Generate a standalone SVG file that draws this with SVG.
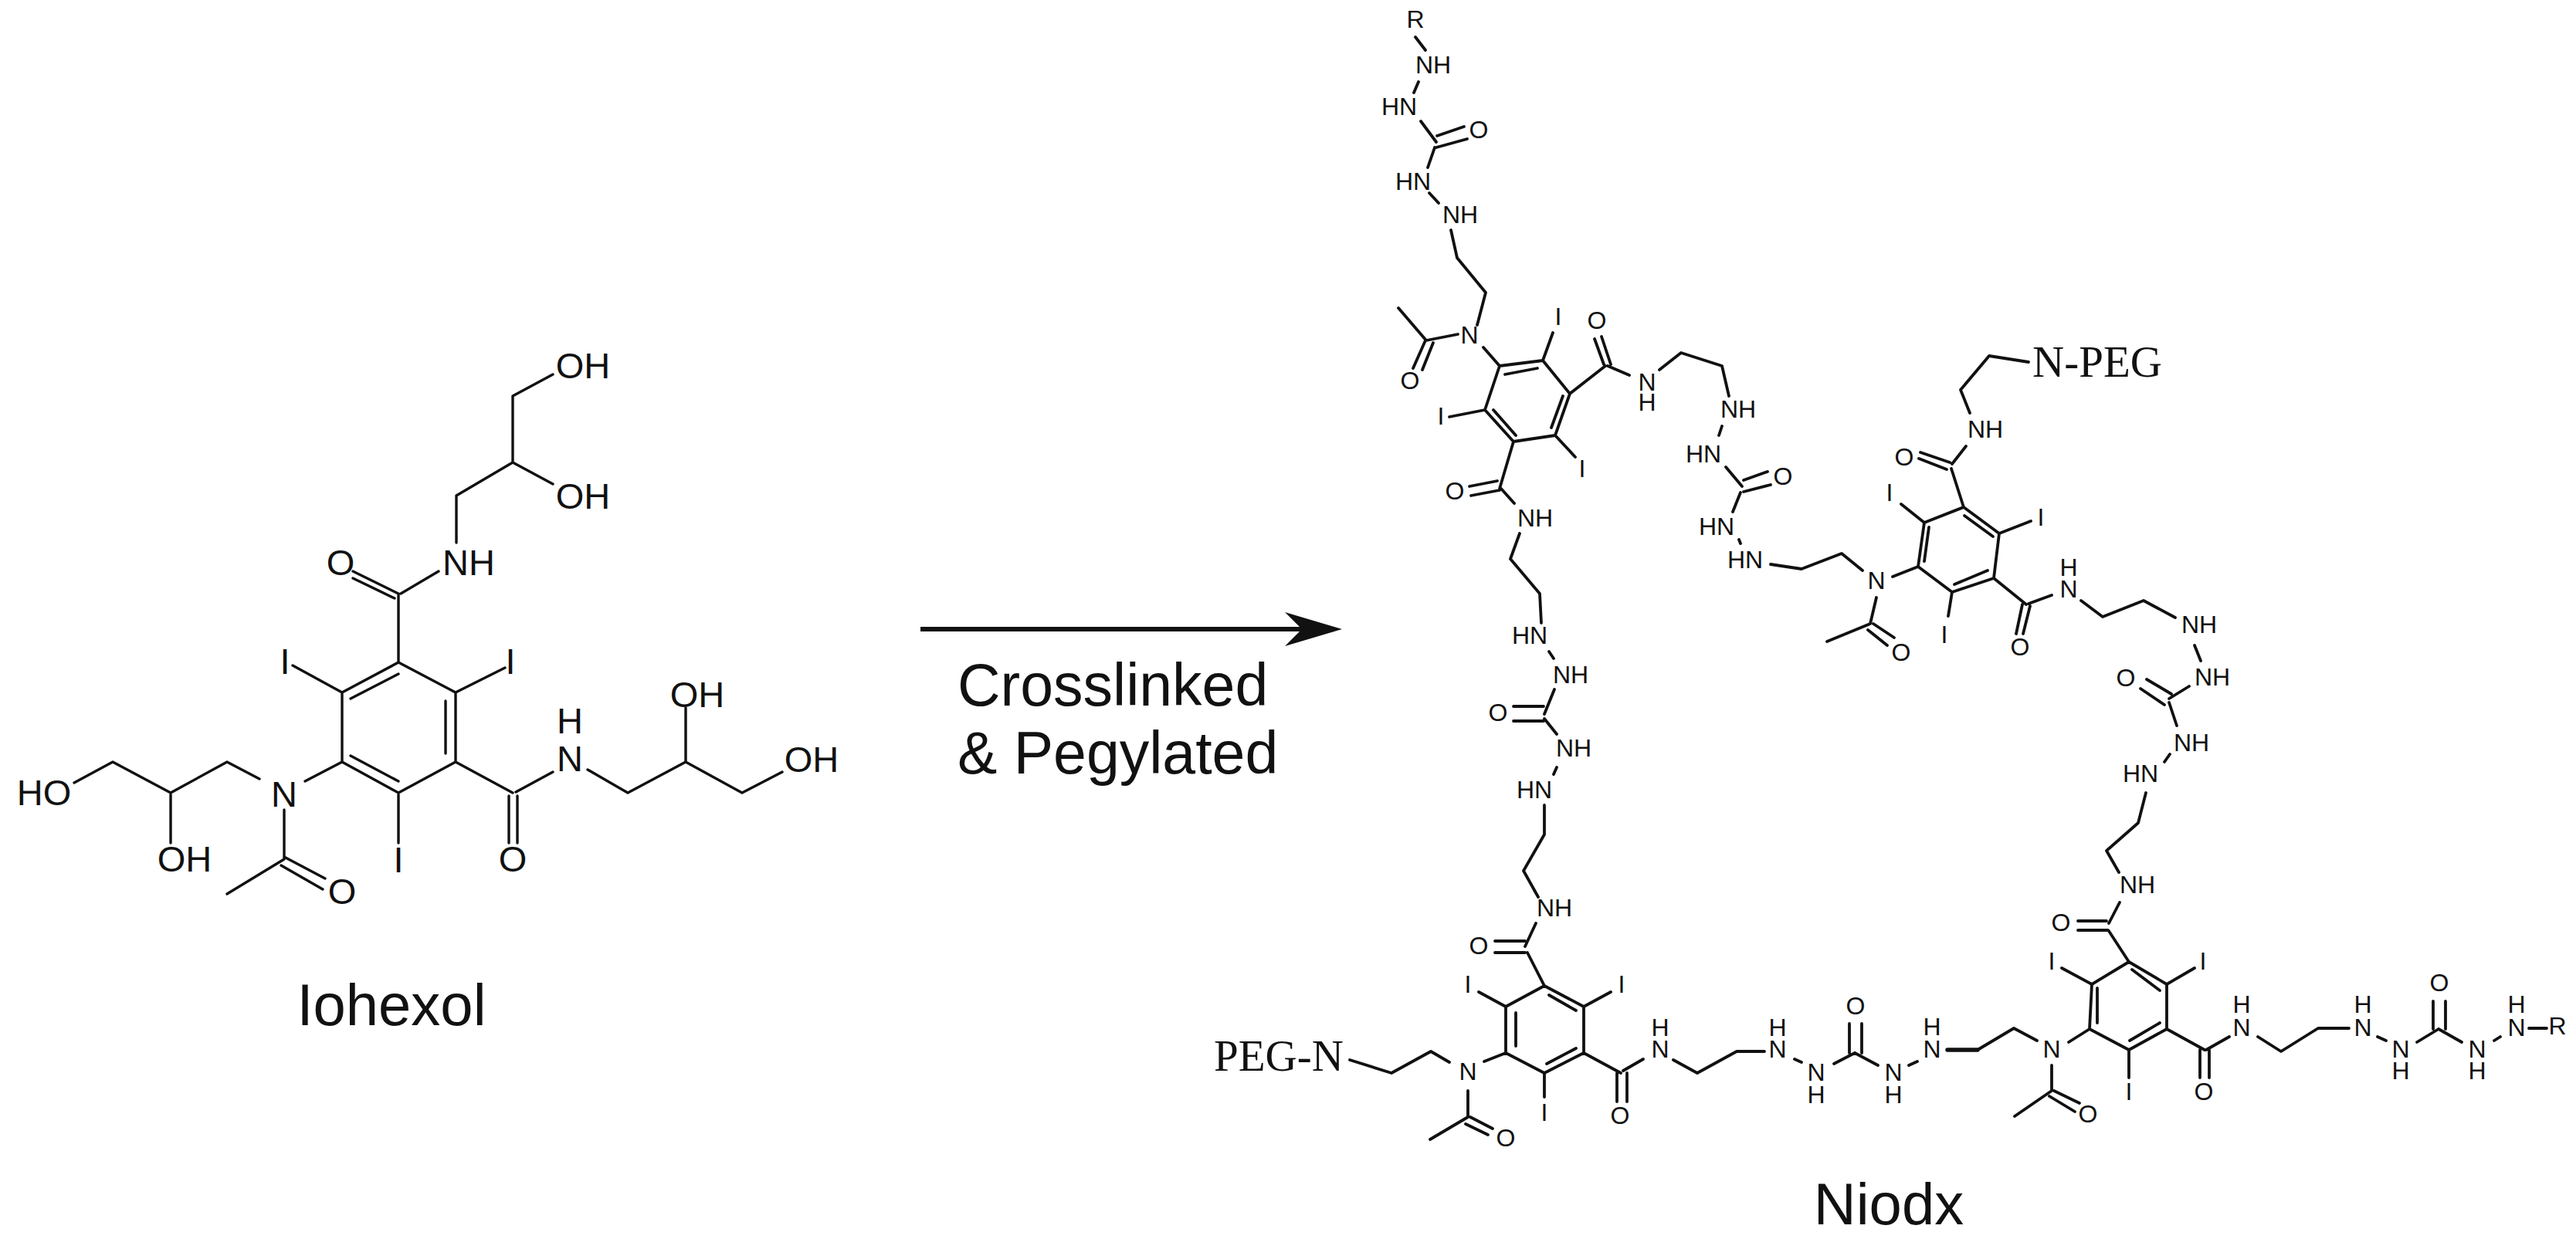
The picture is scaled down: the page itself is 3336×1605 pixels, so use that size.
<svg xmlns="http://www.w3.org/2000/svg" width="3336" height="1605" viewBox="0 0 3336 1605">
<style>
text{font-family:"Liberation Sans",Arial,sans-serif;fill:#111;text-anchor:middle}
.a{font-size:47px}.b{font-size:32px}.t{font-size:76px}
.s{font-family:"Liberation Serif","Times New Roman",serif;font-size:57px}
.l{font-size:77px;text-anchor:start}
.bond{fill:none;stroke:#111;stroke-linecap:round;stroke-linejoin:round}
.b3{stroke-width:3.4}.b4{stroke-width:3.8}.b5{stroke-width:5.5}
</style>
<rect width="3336" height="1605" fill="#fff"/>
<g id="iohexol">
<path class="bond b3" d="M516 858L590 897V987L516 1027L443 987V897ZM454 905L516 873M577 908V976M454 979L516 1012M516 858V770M457 740L516 769M457 749L511 775M519 769L568 740M591 703V642L664 599L716 627M664 599V513L716 485M379 862L443 897M590 897L654 865M516 1027V1092M590 987L664 1027M659 1031V1092M670 1031V1092M668 1026L716 1000M761 997L813 1027L888 987V917M888 987L961 1027L1013 1000M443 987L395 1012M336 1009L294 987L221 1027V1092M221 1027L146 987L96 1014M368 1049V1113L294 1158M368 1110L421 1138M364 1121L418 1152"/>
<text class="a" x="755" y="490">OH</text><text class="a" x="755" y="659">OH</text><text class="a" x="441" y="745">O</text><text class="a" x="607" y="745">NH</text>
<text class="a" x="369" y="873">I</text><text class="a" x="661" y="873">I</text><text class="a" x="516" y="1130">I</text>
<text class="a" x="738" y="950"><tspan>H</tspan><tspan x="738" dy="49">N</tspan></text><text class="a" x="903" y="916">OH</text><text class="a" x="1051" y="1000">OH</text><text class="a" x="664" y="1129">O</text>
<text class="a" x="368" y="1045">N</text><text class="a" x="239" y="1129">OH</text><text class="a" x="57" y="1043">HO</text><text class="a" x="443" y="1171">O</text>
<text class="t" x="507" y="1328">Iohexol</text>
</g>
<g id="arrow">
<path class="bond" style="stroke-width:6;stroke-linecap:butt" d="M1192 815H1690"/>
<path fill="#111" d="M1738 815L1664 793L1686 815L1664 837Z"/>
<text class="l" x="1240" y="914">Crosslinked</text>
<text class="l" x="1240" y="1002">&amp; Pegylated</text>
</g>
<g id="unit-top">
<path class="bond b4" d="M1833 48L1846 65M1837 106L1831 120M1840 157L1860 184M1861 176L1896 164M1860 191L1900 180M1858 191L1849 217M1851 250L1863 263M1879 298L1887 334L1924 379L1913 421M1888 433L1847 441L1811 399M1846 441L1830 477M1856 444L1842 479M1921 450L1942 474L1998 467L2033 510L2014 564L1960 572L1923 531L1942 474M1949 485L1991 477M2024 513L2009 554M1934 531L1963 564M1998 467L2011 431M1923 531L1877 540M2014 564L2040 592M2033 510L2079 474M2065 439L2077 472M2074 436L2086 472M2082 474L2110 486M2149 479L2177 457L2230 474L2239 513M2230 552L2226 564M1960 572L1942 633M1903 630L1939 623M1905 642L1942 635M1944 633L1961 652"/>
<text class="b" x="1833" y="36">R</text><text class="b" x="1856" y="95">NH</text><text class="b" x="1812" y="149">HN</text><text class="b" x="1915" y="179">O</text><text class="b" x="1830" y="246">HN</text><text class="b" x="1891" y="289">NH</text>
<text class="b" x="1903" y="445">N</text><text class="b" x="1826" y="504">O</text><text class="b" x="2018" y="421">I</text><text class="b" x="1866" y="550">I</text><text class="b" x="2049" y="618">I</text><text class="b" x="2068" y="426">O</text>
<text class="b" x="2133" y="506"><tspan>N</tspan><tspan x="2133" dy="26">H</tspan></text><text class="b" x="2251" y="541">NH</text><text class="b" x="1884" y="647">O</text><text class="b" x="1988" y="682">NH</text>
</g>
<g id="unit-middle">
<path class="bond b4" d="M2543 657L2589 691L2582 749L2528 767L2484 734L2492 677ZM2544 668L2581 695M2498 683L2492 727M2574 739L2531 757M2451 747L2484 734M2412 739L2385 717L2333 737L2293 731M2430 774L2422 808L2366 831M2426 808L2453 826M2419 816L2444 836M2528 767L2523 798M2462 653L2492 677M2589 691L2630 675M2543 657L2527 607M2487 586L2525 599M2485 594L2521 608M2528 601L2546 578M2551 535L2539 505L2576 461L2627 469M2582 749L2624 783M2619 783L2611 821M2629 785L2620 821M2627 782L2657 771M2695 778L2723 799L2776 778L2817 800M2842 836L2850 856M2835 889L2809 905M2780 880L2812 899M2772 892L2803 913M2809 910L2819 940M2810 977L2803 987M2779 1027L2769 1066L2728 1102L2744 1130"/>
<text class="b" x="2430" y="763">N</text><text class="b" x="2462" y="856">O</text><text class="b" x="2518" y="833">I</text><text class="b" x="2447" y="649">I</text><text class="b" x="2643" y="681">I</text><text class="b" x="2466" y="603">O</text><text class="b" x="2571" y="567">NH</text>
<text class="s" x="2716" y="488">N-PEG</text>
<text class="b" x="2616" y="849">O</text><text class="b" x="2679" y="746"><tspan>H</tspan><tspan x="2679" dy="28">N</tspan></text><text class="b" x="2848" y="820">NH</text><text class="b" x="2865" y="888">NH</text><text class="b" x="2753" y="889">O</text><text class="b" x="2838" y="973">NH</text><text class="b" x="2772" y="1013">HN</text><text class="b" x="2768" y="1157">NH</text>
</g>
<g id="linker-upper">
<path class="bond b4" d="M2235 605L2256 630M2258 622L2289 611M2258 637L2293 628M2254 638L2244 663M2252 699L2254 704"/>
<text class="b" x="2206" y="599">HN</text><text class="b" x="2309" y="628">O</text><text class="b" x="2223" y="693">HN</text><text class="b" x="2260" y="736">HN</text>
</g>
<g id="unit-lower-left">
<path class="bond b4" d="M1956 724L1968 691M1956 724L1994 769L1996 807M2006 844L2012 853M2013 893L2000 925M1960 915H1999M1960 934H1999M2000 931L2016 951M2016 994L2012 1003M2000 1043V1081L1973 1128L1992 1162M1989 1196L1975 1226M1936 1219H1975M1936 1234H1975M1978 1234L2000 1277L2051 1304V1364L2000 1390L1950 1364V1304L2000 1277M2006 1289L2041 1309M1963 1312V1355M2041 1358L2003 1378M1915 1285L1950 1304M2051 1304L2086 1285M2000 1390V1421M1922 1375L1950 1364M1877 1376L1853 1362L1802 1390L1748 1373M1901 1413V1447L1852 1476M1904 1447L1933 1462M1898 1456L1927 1470M2051 1364L2099 1390M2094 1390V1427M2107 1390V1427M2102 1387L2128 1372M2167 1373L2198 1390L2249 1362H2285M2324 1372L2333 1376M2375 1378L2402 1364M2395 1326V1364M2411 1326V1364M2402 1364L2432 1380M2472 1380L2483 1375"/>
<text class="b" x="1981" y="834">HN</text><text class="b" x="2034" y="885">NH</text><text class="b" x="1940" y="934">O</text><text class="b" x="2038" y="980">NH</text><text class="b" x="1987" y="1034">HN</text><text class="b" x="2013" y="1187">NH</text><text class="b" x="1915" y="1236">O</text>
<text class="b" x="1901" y="1286">I</text><text class="b" x="2100" y="1286">I</text><text class="b" x="2000" y="1452">I</text><text class="b" x="1901" y="1399">N</text><text class="s" x="1656" y="1387">PEG-N</text><text class="b" x="1950" y="1485">O</text><text class="b" x="2098" y="1456">O</text>
<text class="b" x="2150" y="1342"><tspan>H</tspan><tspan x="2150" dy="28">N</tspan></text><text class="b" x="2302" y="1342"><tspan>H</tspan><tspan x="2302" dy="28">N</tspan></text><text class="b" x="2352" y="1400"><tspan>N</tspan><tspan x="2352" dy="29">H</tspan></text><text class="b" x="2403" y="1314">O</text><text class="b" x="2452" y="1400"><tspan>N</tspan><tspan x="2452" dy="29">H</tspan></text>
<text class="t" x="2446" y="1586">Niodx</text>
</g>
<g id="unit-lower-right">
<path class="bond b4" d="M2745 1169L2731 1196M2691 1193H2728M2691 1205H2730M2731 1206L2757 1246L2806 1275V1333L2757 1360L2706 1333L2709 1275L2757 1246M2761 1256L2797 1283M2716 1280V1325M2797 1325L2758 1348M2670 1254L2709 1275M2806 1275L2842 1254M2757 1360V1396M2679 1350L2706 1333M2638 1348L2608 1332L2561 1360M2657 1380V1413L2609 1446M2660 1413L2693 1429M2654 1420L2687 1440M2806 1333L2855 1360M2849 1360V1396M2861 1360V1396M2857 1360L2887 1343M2924 1343L2954 1362L3002 1332H3042M3079 1343L3090 1348M3130 1350L3158 1333M3151 1297V1333M3167 1297V1333M3158 1333L3188 1350M3230 1348L3238 1343M3275 1332H3298"/>
<path class="bond b5" d="M2561 1360H2522"/>
<text class="b" x="2669" y="1206">O</text><text class="b" x="2657" y="1256">I</text><text class="b" x="2853" y="1256">I</text><text class="b" x="2757" y="1425">I</text><text class="b" x="2657" y="1370">N</text>
<text class="b" x="2502" y="1341"><tspan>H</tspan><tspan x="2502" dy="29">N</tspan></text><text class="b" x="2704" y="1454">O</text><text class="b" x="2854" y="1425">O</text>
<text class="b" x="2903" y="1312"><tspan>H</tspan><tspan x="2903" dy="30">N</tspan></text><text class="b" x="3060" y="1312"><tspan>H</tspan><tspan x="3060" dy="30">N</tspan></text><text class="b" x="3109" y="1370"><tspan>N</tspan><tspan x="3109" dy="28">H</tspan></text><text class="b" x="3159" y="1284">O</text><text class="b" x="3208" y="1370"><tspan>N</tspan><tspan x="3208" dy="28">H</tspan></text><text class="b" x="3259" y="1312"><tspan>H</tspan><tspan x="3259" dy="30">N</tspan></text><text class="b" x="3312" y="1340">R</text>
</g>
</svg>
